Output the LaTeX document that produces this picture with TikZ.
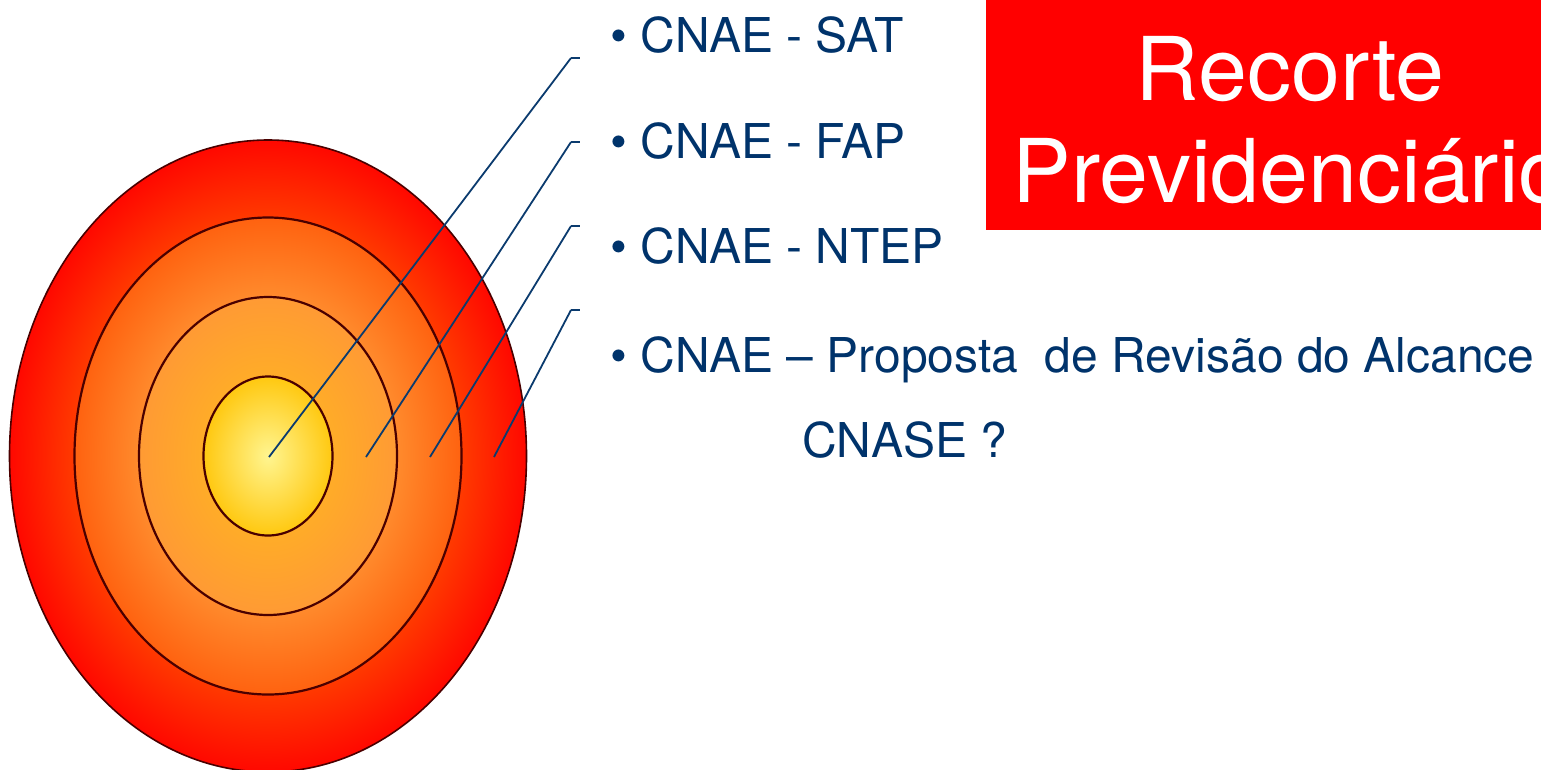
\documentclass[tikz,border=0pt]{standalone}
\usepackage{fontspec}
\setmainfont{TeX Gyre Heros}
\definecolor{txtblue}{HTML}{00336B}
\definecolor{lineblue}{HTML}{0B3B6E}
\definecolor{edgebrown}{HTML}{4A0000}
\definecolor{boxred}{HTML}{FF0000}
\definecolor{cAa}{HTML}{FF5A00}
\definecolor{cAb}{HTML}{FF3A00}
\definecolor{cAc}{HTML}{FF0800}
\definecolor{cBa}{HTML}{FFA545}
\definecolor{cBb}{HTML}{FF8A2C}
\definecolor{cBc}{HTML}{FF6210}
\definecolor{cCa}{HTML}{FFBA2A}
\definecolor{cCb}{HTML}{FFAC28}
\definecolor{cCc}{HTML}{FF9A34}
\definecolor{cDa}{HTML}{FFF590}
\definecolor{cDc}{HTML}{FFC810}
\pgfdeclareradialshading{ringA}{\pgfpoint{0bp}{0bp}}{color(0bp)=(cAa); color(18.75bp)=(cAb); color(25bp)=(cAc); color(50bp)=(cAc)}
\pgfdeclareradialshading{ringB}{\pgfpoint{0bp}{0bp}}{color(0bp)=(cBa); color(16.7bp)=(cBb); color(25bp)=(cBc); color(50bp)=(cBc)}
\pgfdeclareradialshading{ringC}{\pgfpoint{0bp}{0bp}}{color(0bp)=(cCa); color(12.5bp)=(cCb); color(25bp)=(cCc); color(50bp)=(cCc)}
\pgfdeclareradialshading{ringD}{\pgfpoint{0bp}{0bp}}{color(0bp)=(cDa); color(25bp)=(cDc); color(50bp)=(cDc)}
\tikzset{
  ringedge/.style={draw=edgebrown, line width=2.2pt},
  leader/.style={draw=lineblue, line width=1.8pt},
  tick/.style={draw=lineblue, line width=1.3pt},
  itemtext/.style={anchor=base west, inner sep=0pt, text=txtblue, font=\fontsize{48}{58}\selectfont},
  titletext/.style={anchor=base, inner sep=0pt, text=white, font=\fontsize{88}{103}\selectfont}
}
\begin{document}
\begin{tikzpicture}[x=1pt,y=-1pt]
\useasboundingbox (0,0) rectangle (1541,769);
\clip (0,0) rectangle (1541,769);
% title box
\fill[boxred] (986,0) rectangle (1600,230);
\node[titletext] (t1) at (1290,100) {Recorte};
\node[titletext] (t2) at (1290,202) {Previdenciário};
% target
\coordinate (c) at (268,456);
\path[shading=ringA, draw=edgebrown, line width=1.6pt] (c) ellipse [x radius=258.5, y radius=316];
\path[shading=ringB, ringedge] (c) ellipse [x radius=193.5, y radius=238.5];
\path[shading=ringC, ringedge] (c) ellipse [x radius=129, y radius=159];
\path[shading=ringD, ringedge] (c) ellipse [x radius=64.5, y radius=79.5];
% leader points
\coordinate (p1) at (269,457);
\coordinate (p2) at (366,457);
\coordinate (p3) at (430,457);
\coordinate (p4) at (494,457);
\coordinate (k1) at (571,58);
\coordinate (k2) at (571,142);
\coordinate (k3) at (571,226);
\coordinate (k4) at (571,310);
\coordinate (e1) at (580,58);
\coordinate (e2) at (580,142);
\coordinate (e3) at (580,226);
\coordinate (e4) at (580,310);
\foreach \i in {1,2,3,4}{
  \draw[leader] (p\i) -- (k\i);
  \draw[tick] (k\i) -- (e\i);
}
% items
\node[itemtext] (i1) at (610,52) {• CNAE - SAT};
\node[itemtext] (i2) at (610,158) {• CNAE - FAP};
\node[itemtext] (i3) at (610,263) {• CNAE - NTEP};
\node[itemtext] (i4) at (610,372) {• CNAE – Proposta\ \ de Revisão do Alcance};
\node[itemtext] (i5) at (802,457) {CNASE ?};
\end{tikzpicture}
\end{document}
